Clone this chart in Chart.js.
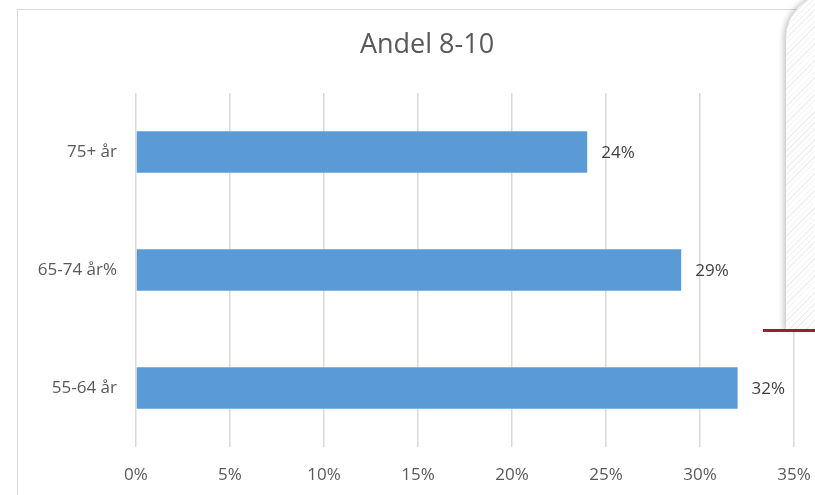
<!DOCTYPE html>
<html>
<head>
<meta charset="utf-8">
<script src="https://cdn.jsdelivr.net/npm/chart.js@4"></script>
<style>
  html,body{margin:0;padding:0;background:#fff;overflow:hidden;}
  #wrap{position:relative;width:815px;height:495px;}
  #frame{position:absolute;left:17px;top:9px;width:900px;height:600px;border:1.5px solid #d9d9d9;box-sizing:border-box;}
  canvas{position:absolute;left:0;top:0;}
  #panel{position:absolute;left:786px;top:-6px;width:60px;height:336px;border-top-left-radius:44px;
    background:#fff repeating-linear-gradient(135deg,#fff 0px,#fff 3px,#f0f0f0 3px,#f0f0f0 4px);
    box-shadow:-3px 0 5px rgba(0,0,0,0.2);z-index:2;}
  #redline{position:absolute;left:763px;top:329px;width:52px;height:3px;background:#9c1c31;z-index:3;}
</style>
</head>
<body>
<div id="wrap">
  <div id="frame"></div>
  <canvas id="c" width="815" height="495"></canvas>
  <div id="panel"></div>
  <div id="redline"></div>
</div>
<script>
const title = "Andel 8-10";
const categories = ["75+ år", "65-74 år%", "55-64 år"];
const values = [24, 29, 32];
const xTicks = [0, 5, 10, 15, 20, 25, 30, 35];

const FONT = "'Open Sans', sans-serif";

const dataLabels = {
  id: 'dataLabels',
  afterDatasetsDraw(chart) {
    const ctx = chart.ctx;
    const meta = chart.getDatasetMeta(0);
    ctx.save();
    ctx.font = "17px " + FONT;
    ctx.fillStyle = "#404040";
    ctx.textAlign = "left";
    ctx.textBaseline = "middle";
    meta.data.forEach((bar, i) => {
      ctx.fillText(values[i] + "%", bar.x + 14, bar.y + 1);
    });
    ctx.restore();
  }
};

// Chart title, centred on the (wider) chart object as in the original
const chartTitle = {
  id: 'chartTitle',
  afterDraw(chart) {
    const ctx = chart.ctx;
    ctx.save();
    ctx.font = "27px " + FONT;
    ctx.fillStyle = "#595959";
    ctx.textAlign = "center";
    ctx.textBaseline = "middle";
    ctx.fillText(title, (chart.width + 39) / 2, 45);
    ctx.restore();
  }
};

new Chart(document.getElementById('c'), {
  type: 'bar',
  data: {
    labels: categories,
    datasets: [{
      data: values,
      backgroundColor: '#5b9bd5',
      borderWidth: 0,
      barPercentage: 0.35,
      categoryPercentage: 1
    }]
  },
  options: {
    indexAxis: 'y',
    responsive: false,
    animation: false,
    devicePixelRatio: 1,
    layout: { padding: { left: 0, right: 21, top: 93, bottom: 8 } },
    plugins: {
      legend: { display: false },
      tooltip: { enabled: false },
      title: { display: false }
    },
    scales: {
      x: {
        min: 0, max: 35,
        afterBuildTicks(s) { s.ticks = xTicks.map(v => ({ value: v })); },
        afterFit(s) { s.height = 40; s.paddingRight = 0; s.paddingLeft = 0; },
        grid: { color: '#d9d9d9', lineWidth: 1.5, drawTicks: false },
        border: { display: false },
        ticks: {
          color: '#595959',
          font: { family: FONT, size: 17 },
          padding: 18,
          callback: v => v + '%'
        }
      },
      y: {
        afterFit(s) { s.width = 136; },
        grid: { display: false, drawTicks: false },
        border: { display: false },
        ticks: {
          color: '#595959',
          font: { family: FONT, size: 17 },
          padding: 19
        }
      }
    }
  },
  plugins: [dataLabels, chartTitle]
});
</script>
</body>
</html>
